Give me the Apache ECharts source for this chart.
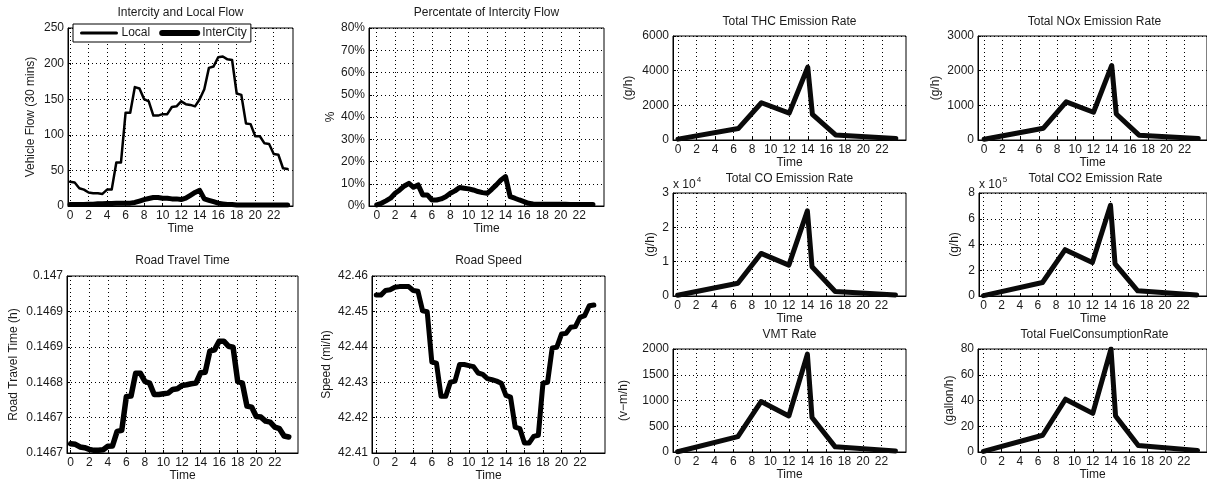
<!DOCTYPE html>
<html><head><meta charset="utf-8">
<script src="https://cdn.jsdelivr.net/npm/echarts@6/dist/echarts.min.js"></script>
<style>html,body{margin:0;padding:0;background:#fff}#c{width:1207px;height:484px}</style>
</head><body><div id="c"></div>
<script>
// ---------- data ----------
const halfHours = [0,0.5,1,1.5,2,2.5,3,3.5,4,4.5,5,5.5,6,6.5,7,7.5,8,8.5,9,9.5,10,10.5,11,11.5,12,12.5,13,13.5,14,14.5,15,15.5,16,16.5,17,17.5,18,18.5,19,19.5,20,20.5,21,21.5,22,22.5,23,23.5];
const xTickValues = [0,2,4,6,8,10,12,14,16,18,20,22];

const localFlow = [34,33,25,23,19,18,18,17,23,23,61,61,131,131,167,165,150,147,127,127,129,129,139,140,147,143,142,140,150,164,194,196,209,210,206,205,158,156,116,115,98,98,88,87,73,72,53,52];
const interCityFlow = [2,2,2,2,2.5,2.5,3,3,3.5,3.5,4,4,4,4,5,7,9,10.5,12,12,11,11,10,10,9,11,15,19,22,10,8,6,4,3,2,2,1.5,1.5,1.5,1.5,1.5,1.5,1.5,1.5,1.5,1.5,1.5,1.5];
const intercityPct = [0.5,1.2,2.3,3.5,5.7,7.2,9,10.2,8.4,9.5,5,5,2.7,2.7,3.2,4.2,5.7,6.8,8.3,8,7.7,7.2,6.5,6,5.7,7.5,9.5,11.7,13.2,4.2,3.5,2.7,2,1.2,0.9,0.8,0.8,0.8,0.8,0.8,0.8,0.8,0.7,0.7,0.7,0.7,0.7,0.7];
const travelTime = [0.1466958,0.1466947,0.1466902,0.1466890,0.1466862,0.1466845,0.1466845,0.1466856,0.1466913,0.1466918,0.1467167,0.1467183,0.1467759,0.1467764,0.1468153,0.1468153,0.1468012,0.1467984,0.1467792,0.1467792,0.1467804,0.1467815,0.1467877,0.1467888,0.1467945,0.1467956,0.1467973,0.1467984,0.1468159,0.1468170,0.1468526,0.1468548,0.1468695,0.1468695,0.1468610,0.1468593,0.1468012,0.1467984,0.1467595,0.1467578,0.1467420,0.1467409,0.1467341,0.1467324,0.1467240,0.1467212,0.1467088,0.1467071];
const roadSpeed = [42.4546,42.4546,42.4559,42.4561,42.4568,42.4570,42.4570,42.4570,42.4559,42.4557,42.4502,42.4499,42.4357,42.4354,42.4260,42.4260,42.4300,42.4303,42.4350,42.4350,42.4347,42.4344,42.4326,42.4322,42.4310,42.4307,42.4303,42.4297,42.4263,42.4258,42.4173,42.4169,42.4128,42.4128,42.4147,42.4150,42.4297,42.4300,42.4397,42.4399,42.4436,42.4438,42.4455,42.4457,42.4483,42.4488,42.4516,42.4518];

const emissionHours = [0,6.5,9,12,14,14.5,17,23.5];
const thcRate  = [50,660,2150,1550,4200,1480,290,80];
const noxRate  = [20,340,1100,800,2150,750,140,40];
const coRate   = [200,3700,12400,9000,24800,8500,1300,300];
const co2Rate  = [3000,105000,360000,260000,705000,250000,40000,8000];
const vmtRate  = [5,300,980,700,1900,670,100,20];
const fuelRate = [0.5,13,41,30,80,28,5,1.2];

const yTickTravel = [0.14668, 0.14698, 0.00006]; // min, max, step
// ---------- chart ----------
const FONT = "'Liberation Sans', Arial, Helvetica, sans-serif";
const TXT = '#1a1a1a';
const panels = [
  {title:'Intercity and Local Flow', grid:[68,28,225,178], x:[-0.22,24.08], y:[0,250,50], yname:'Vehicle Flow (30 mins)', gap:31, ty:7},
  {title:'Percentate of Intercity Flow', grid:[369,28,235,178], x:[-0.84,24.7], y:[0,80,10], yname:'%', gap:31, ty:7, fmt:v=>v+'%'},
  {title:'Road Travel Time', grid:[67,276,231,177], x:[-0.4,24.5], y:yTickTravel, yname:'Road Travel Time (h)', gap:47, ty:255, fmt:v=>String(parseFloat(v.toPrecision(4)))},
  {title:'Road Speed', grid:[372,276,233,177], x:[-0.46,24.7], y:[42.41,42.46,0.01], yname:'Speed (mi/h)', gap:39, ty:255, fmt:v=>v.toFixed(2)},
  {title:'Total THC Emission Rate', grid:[673,36,233,104], x:[-0.54,24.6], y:[0,6000,2000], yname:'(g/h)', gap:38, ty:16},
  {title:'Total NOx Emission Rate', grid:[978,36,233,104], x:[-0.68,24.46], y:[0,3000,1000], yname:'(g/h)', gap:36, ty:16},
  {title:'Total CO Emission Rate', grid:[673,193,233,103], x:[-0.5,24.64], y:[0,30000,10000], yname:'(g/h)', gap:16, ty:173, fmt:v=>String(v/1e4), exp:'4'},
  {title:'Total CO2 Emission Rate', grid:[979,193,233,103], x:[-0.5,24.64], y:[0,800000,200000], yname:'(g/h)', gap:18, ty:173, fmt:v=>String(v/1e5), exp:'5'},
  {title:'VMT Rate', grid:[673,349,233,103], x:[-0.5,24.64], y:[0,2000,500], yname:'(v\u2212m/h)', gap:43, ty:329},
  {title:'Total FuelConsumptionRate', grid:[978,349,233,103], x:[-0.6,24.54], y:[0,80,20], yname:'(gallon/h)', gap:22, ty:329}
];

const grids=[], xAxes=[], yAxes=[], titles=[];
panels.forEach((p,i)=>{
  const [l,t,w,h]=p.grid;
  grids.push({left:l, top:t, width:w, height:h, show:true, borderColor:'#000', borderWidth:1, containLabel:false});
  xAxes.push({gridIndex:i, type:'value', min:p.x[0], max:p.x[1],
    name:'Time', nameLocation:'middle', nameGap:17,
    nameTextStyle:{fontFamily:FONT, fontSize:12, color:TXT},
    axisLine:{show:true, onZero:false, lineStyle:{color:'#000', width:1}},
    axisTick:{show:true, inside:true, length:3, customValues:xTickValues, lineStyle:{color:'#000'}},
    axisLabel:{customValues:xTickValues, margin:4, fontFamily:FONT, fontSize:12, color:TXT},
    splitLine:{show:true, lineStyle:{color:'#000', width:1, type:[1,3]}}
  });
  yAxes.push({gridIndex:i, type:'value', min:p.y[0], max:p.y[1], interval:p.y[2],
    name:p.yname, nameLocation:'middle', nameGap:p.gap, nameRotate:90,
    nameTextStyle:{fontFamily:FONT, fontSize:12, color:TXT},
    axisLine:{show:true, onZero:false, lineStyle:{color:'#000', width:1}},
    axisTick:{show:true, inside:true, length:3, lineStyle:{color:'#000'}},
    axisLabel:{margin:4, fontFamily:FONT, fontSize:12, color:TXT, showMinLabel:true, showMaxLabel:true, formatter:p.fmt || (v=>String(v))},
    splitLine:{show:true, lineStyle:{color:'#000', width:1, type:[1,3]}}
  });
  titles.push({text:p.title, left:l+w/2, top:p.ty, textAlign:'center', padding:0,
    textStyle:{fontFamily:FONT, fontSize:12, fontWeight:'normal', color:TXT}});
  if(p.exp){
    titles.push({text:'{a|x 10}{s|'+p.exp+'}', left:l, top:t-17, padding:0,
      textStyle:{fontWeight:'normal', rich:{a:{fontFamily:FONT, fontSize:12, fontWeight:'normal', color:TXT, lineHeight:15, verticalAlign:'bottom'},
                       s:{fontFamily:FONT, fontSize:8, fontWeight:'normal', color:TXT, verticalAlign:'top', padding:[0,0,0,1]}}}});
  }
});

function zip(xs, ys){ return xs.map((x,k)=>[x, ys[k]]); }
function line(name, xi, xs, ys, width, color){
  return {name, type:'line', xAxisIndex:xi, yAxisIndex:xi, data:zip(xs,ys), symbol:'none', showSymbol:false,
    lineStyle:{color:color||'#000', width, join:'round', cap:'round'}, itemStyle:{color:'#000'}, clip:true, silent:true};
}
const series = [
  line('Local',0,halfHours,localFlow,2.5),
  line('InterCity',0,halfHours,interCityFlow,5),
  line('pct',1,halfHours,intercityPct,5),
  line('tt',2,halfHours,travelTime,5.5),
  line('speed',3,halfHours,roadSpeed,5),
  line('thc',4,emissionHours,thcRate,5,'#0a0a0a'),
  line('nox',5,emissionHours,noxRate,5,'#0a0a0a'),
  line('co',6,emissionHours,coRate,5,'#0a0a0a'),
  line('co2',7,emissionHours,co2Rate,5,'#0a0a0a'),
  line('vmt',8,emissionHours,vmtRate,5,'#0a0a0a'),
  line('fuel',9,emissionHours,fuelRate,5,'#0a0a0a')
];

const chart = echarts.init(document.getElementById('c'), null, {renderer:'canvas'});
chart.setOption({
  animation:false,
  backgroundColor:'#fff',
  title:titles,
  legend:{data:[{name:'Local', lineStyle:{width:3, color:'#000'}}, {name:'InterCity', lineStyle:{width:6, color:'#000'}}],
    left:73, top:24, padding:[3,4,3,7], itemGap:9, itemWidth:35, itemHeight:12,
    backgroundColor:'#fff', borderColor:'#000', borderWidth:1, z:10, selectedMode:false,
    itemStyle:{opacity:0},
    textStyle:{fontFamily:FONT, fontSize:12, color:TXT}},
  grid:grids, xAxis:xAxes, yAxis:yAxes, series
});
</script></body></html>
